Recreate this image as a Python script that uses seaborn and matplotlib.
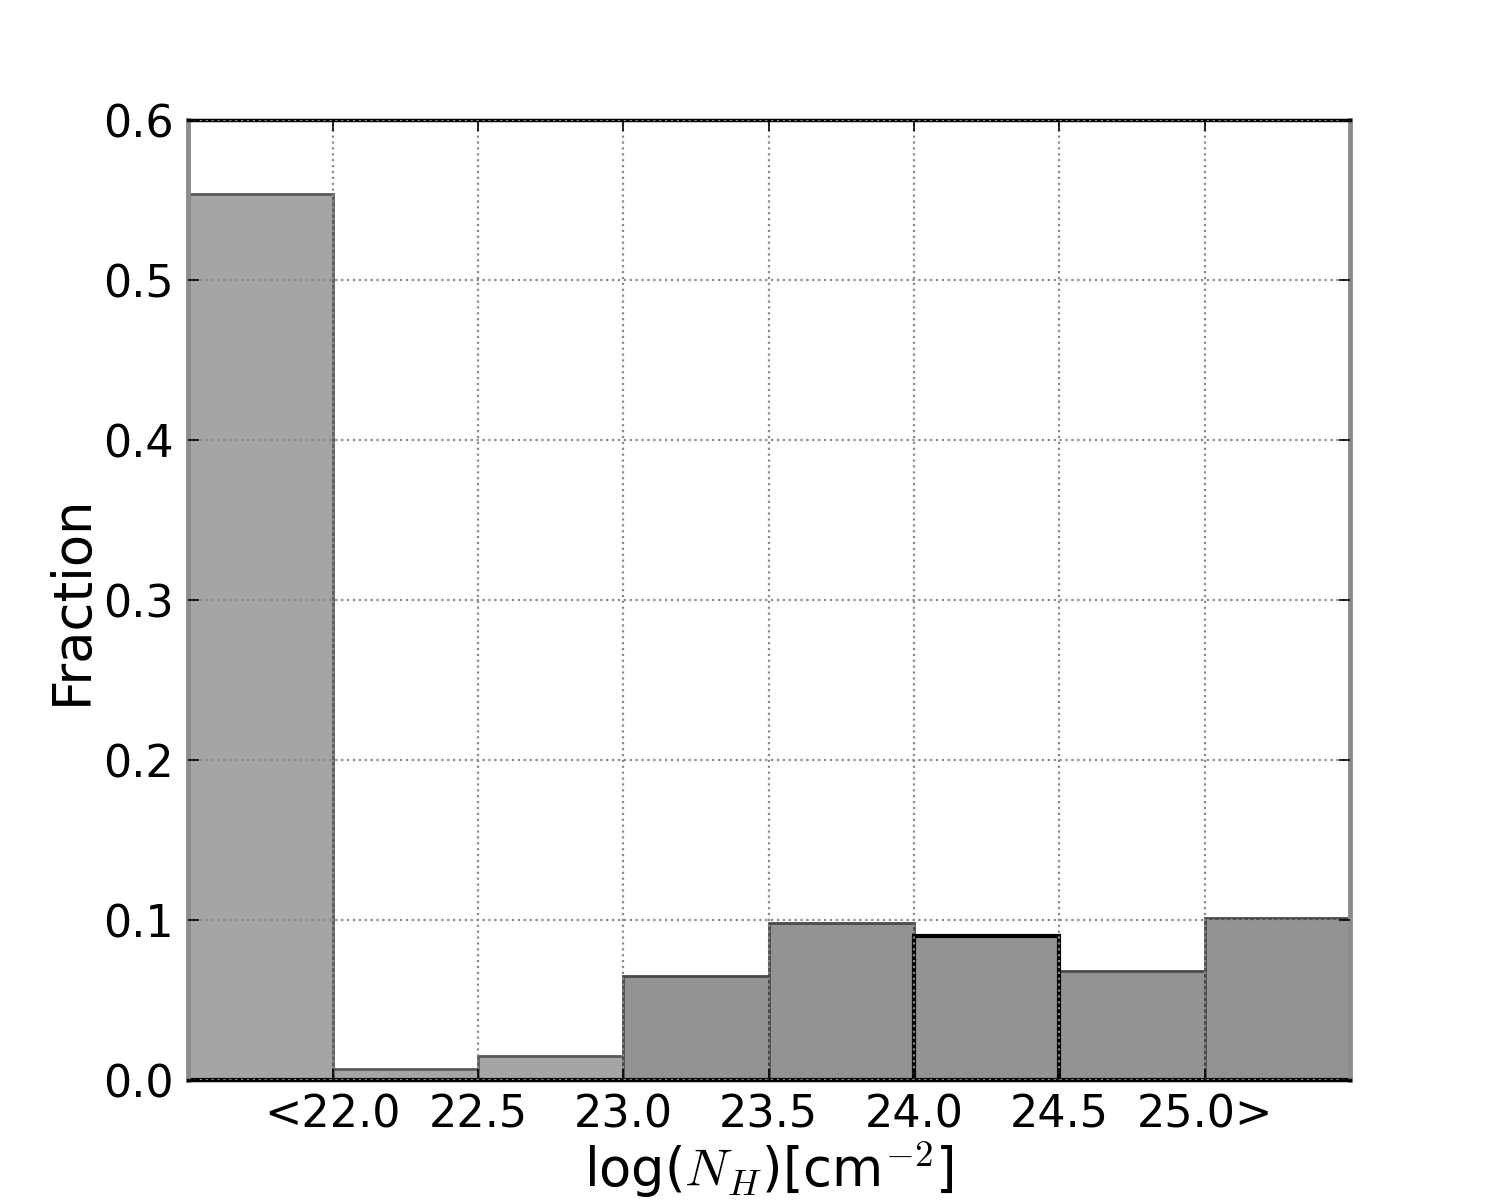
import matplotlib
matplotlib.use("Agg")
import matplotlib.pyplot as plt
import seaborn as sns
import pandas as pd
import numpy as np

# ---- data ----
bin_edges = [21.5, 22.0, 22.5, 23.0, 23.5, 24.0, 24.5, 25.0, 25.5]
bin_centers = [21.75, 22.25, 22.75, 23.25, 23.75, 24.25, 24.75, 25.25]
fractions = [0.554, 0.007, 0.015, 0.065, 0.098, 0.090, 0.068, 0.101]
bar_group = ["light", "light", "light", "dark", "dark", "darkedge", "dark", "dark"]
tick_values = [22.0, 22.5, 23.0, 23.5, 24.0, 24.5, 25.0]
tick_labels = ["<22.0", "22.5", "23.0", "23.5", "24.0", "24.5", "25.0>"]
y_ticks = [0.0, 0.1, 0.2, 0.3, 0.4, 0.5, 0.6]

df = pd.DataFrame({"center": bin_centers, "fraction": fractions, "group": bar_group})

plt.rcParams["mathtext.fontset"] = "cm"
plt.rcParams["font.family"] = ["DejaVu Sans"]

fig = plt.figure(figsize=(15, 12), dpi=100)
ax = fig.add_axes([0.125, 0.1, 0.775, 0.8])

styles = {
    "light": dict(color="#a5a5a5", edgecolor="#5a5a5a", linewidth=2.0),
    "dark": dict(color="#939393", edgecolor="#4a4a4a", linewidth=2.0),
    "darkedge": dict(color="#939393", edgecolor="#000000", linewidth=3.0),
}
for g, st in styles.items():
    sub = df[df["group"] == g]
    sns.histplot(data=sub, x="center", weights="fraction", bins=bin_edges,
                 stat="count", alpha=1, ax=ax, **st)

ax.set_xlim(21.5, 25.5)
ax.set_ylim(0, 0.6)
ax.set_xticks(tick_values)
ax.set_xticklabels(tick_labels)
ax.set_yticks(y_ticks)
ax.set_yticklabels([f"{v:.1f}" for v in y_ticks])
ax.tick_params(axis="both", which="major", labelsize=32, direction="in",
               length=8, width=1.2, top=True, right=True, pad=10)

ax.set_axisbelow(False)
ax.grid(True, linestyle=":", color="#8a8a8a", linewidth=1.6)

ax.set_xlabel(r"log($N_H$)[cm$^{-2}$]", fontsize=38, labelpad=2)
ax.set_ylabel("Fraction", fontsize=38, labelpad=4)

for side in ["top", "bottom"]:
    ax.spines[side].set_color("black")
    ax.spines[side].set_linewidth(2.5)
for side in ["left", "right"]:
    ax.spines[side].set_color("#8c8c8c")
    ax.spines[side].set_linewidth(3.5)

fig.savefig("out.png", dpi=100)
